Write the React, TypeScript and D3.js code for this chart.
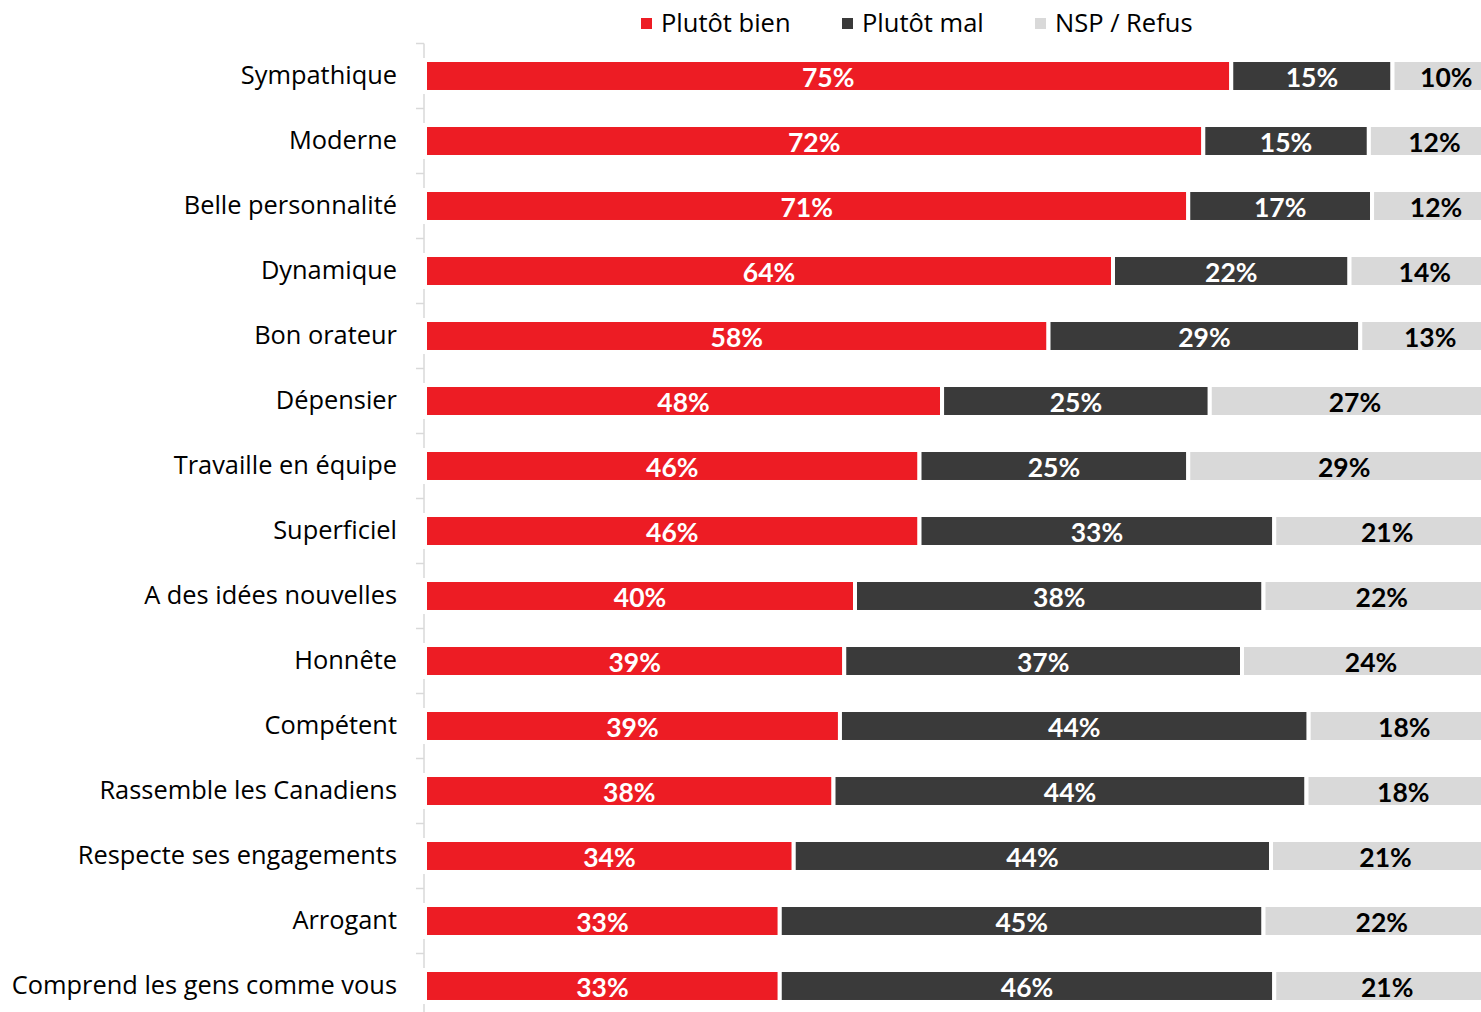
import * as d3 from 'd3';

// données
const categories = [
  'Sympathique',
  'Moderne',
  'Belle personnalité',
  'Dynamique',
  'Bon orateur',
  'Dépensier',
  'Travaille en équipe',
  'Superficiel',
  'A des idées nouvelles',
  'Honnête',
  'Compétent',
  'Rassemble les Canadiens',
  'Respecte ses engagements',
  'Arrogant',
  'Comprend les gens comme vous',
];
const plutotBien = [75, 72.4, 71, 64, 58, 48.1, 46, 46, 40, 39, 38.6, 38, 34.3, 33, 33];
const plutotMal = [15, 15.4, 17.1, 22, 29, 24.9, 25, 33, 38, 37, 43.6, 44, 44.4, 45, 46];
const nspRefus = [10, 12.2, 11.9, 14, 13, 27, 29, 21, 22, 24, 17.8, 18, 21.3, 22, 21];

const seriesNames = ['Plutôt bien', 'Plutôt mal', 'NSP / Refus'];
const colors = ['#ED1C24', '#3A3A3A', '#D9D9D9'];
const labelColors = ['#FFFFFF', '#FFFFFF', '#000000'];

const W = 1481;
const H = 1012;
const FONT = '"Open Sans", Lato, sans-serif';
const FONT_BOLD = 'Lato, "Open Sans", sans-serif';

export default function App() {
  const margin = { top: 43.5, left: 425 };
  const step = 65;

  // l'axe déborde à droite : le graphique est coupé à 1481px
  const x = d3.scaleLinear().domain([0, 100]).range([margin.left, margin.left + 1075]);
  const y = d3
    .scaleBand()
    .domain(categories)
    .range([margin.top, margin.top + step * categories.length])
    .paddingInner(0.508)
    .paddingOuter(0.254);

  const rows = categories.map((c, i) => ({
    cat: c,
    values: [plutotBien[i], plutotMal[i], nspRefus[i]],
  }));

  const stack = rows.map((r) => {
    let acc = 0;
    return r.values.map((v, k) => {
      const s = { k, x0: acc, x1: acc + v, v };
      acc += v;
      return s;
    });
  });

  const legendX = [641, 842, 1035];

  return (
    <svg
      width={W}
      height={H}
      style={{ position: 'absolute', left: 0, top: 0, background: '#fff' }}
      fontFamily={FONT}
    >
      {/* légende */}
      {seriesNames.map((n, k) => (
        <g key={n} transform={`translate(${legendX[k]}, 18)`}>
          <rect width={11} height={11} fill={colors[k]} />
          <text x={20} y={5.5} dy="0.34em" fontSize={25.5} fill="#000">
            {n}
          </text>
        </g>
      ))}

      {/* axe vertical */}
      <line x1={424} x2={424} y1={margin.top} y2={H} stroke="#D9D9D9" strokeWidth={1.5} />
      {d3.range(categories.length + 1).map((i) => (
        <line
          key={i}
          x1={416}
          x2={424}
          y1={margin.top + i * step}
          y2={margin.top + i * step}
          stroke="#D9D9D9"
          strokeWidth={1.5}
        />
      ))}

      {/* étiquettes de catégories */}
      {categories.map((c) => (
        <text
          key={c}
          x={397}
          y={y(c)! + y.bandwidth() / 2 - 1}
          dy="0.34em"
          textAnchor="end"
          fontSize={25.4}
          fill="#000"
        >
          {c}
        </text>
      ))}

      {/* barres */}
      {rows.map((r, i) => (
        <g key={r.cat}>
          {stack[i].map((s) => (
            <rect
              key={s.k}
              x={x(s.x0)}
              y={y(r.cat)!}
              width={x(s.x1) - x(s.x0)}
              height={y.bandwidth()}
              fill={colors[s.k]}
              stroke="#fff"
              strokeWidth={4}
            />
          ))}
          {stack[i].map((s) => (
            <text
              key={'t' + s.k}
              x={(x(s.x0) + x(s.x1)) / 2}
              y={y(r.cat)! + y.bandwidth() / 2 + 1}
              dy="0.36em"
              textAnchor="middle"
              fontFamily={FONT_BOLD}
              fontSize={26.5}
              fontWeight="bold"
              fill={labelColors[s.k]}
            >
              {Math.round(s.v)}%
            </text>
          ))}
        </g>
      ))}
    </svg>
  );
}
